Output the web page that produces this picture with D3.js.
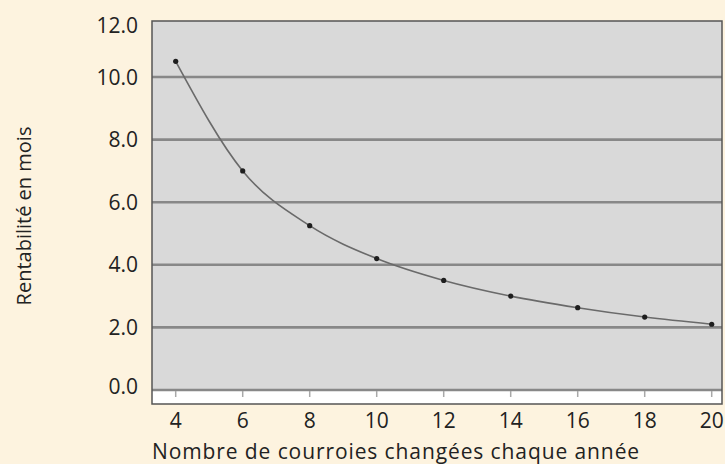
<!DOCTYPE html>
<html>
<head>
<meta charset="utf-8">
<script src="https://cdn.jsdelivr.net/npm/d3@7"></script>
<style>
  body { margin: 0; background: #fdf3df; }
  svg { display: block; font-family: "Open Sans", sans-serif; }
</style>
</head>
<body>
<div id="chart"></div>
<script>
// data
var courroies = [4, 6, 8, 10, 12, 14, 16, 18, 20];
var rentabilite = [10.5, 7.0, 5.25, 4.2, 3.5, 3.0, 2.63, 2.33, 2.1];
var yTicks = [0, 2, 4, 6, 8, 10, 12];
var xTicks = [4, 6, 8, 10, 12, 14, 16, 18, 20];

var width = 725, height = 464;
var plot = {left: 152, top: 21, right: 722, bottom: 404};

var svg = d3.select("#chart")
  .append("svg")
    .attr("width", width)
    .attr("height", height);

// scales
var x = d3.scaleLinear()
    .domain([4, 20])
    .range([175.7, 711.7]);

var y = d3.scaleLinear()
    .domain([0, 10])
    .range([390, 77]);

// plot background: grey above zero, white strip below
svg.append("rect")
    .attr("x", plot.left)
    .attr("y", plot.top)
    .attr("width", plot.right - plot.left)
    .attr("height", plot.bottom - plot.top)
    .attr("fill", "#ffffff");

svg.append("rect")
    .attr("x", plot.left)
    .attr("y", plot.top)
    .attr("width", plot.right - plot.left)
    .attr("height", y(0) - plot.top)
    .attr("fill", "#d9d9d9");

// gridlines
svg.selectAll(".grid")
  .data(yTicks.filter(d => y(d) > plot.top))
  .join("line")
    .attr("class", "grid")
    .attr("x1", plot.left)
    .attr("x2", plot.right)
    .attr("y1", d => y(d))
    .attr("y2", d => y(d))
    .attr("stroke", "#888888")
    .attr("stroke-width", 2.6);

// small tick marks in the white strip
svg.selectAll(".xtick")
  .data(xTicks)
  .join("line")
    .attr("class", "xtick")
    .attr("x1", d => x(d))
    .attr("x2", d => x(d))
    .attr("y1", y(0) + 1)
    .attr("y2", y(0) + 7)
    .attr("stroke", "#a8a8a8")
    .attr("stroke-width", 1.5);

// border
svg.append("rect")
    .attr("x", plot.left)
    .attr("y", plot.top)
    .attr("width", plot.right - plot.left)
    .attr("height", plot.bottom - plot.top)
    .attr("fill", "none")
    .attr("stroke", "#555555")
    .attr("stroke-width", 1.5);

// curve
var line = d3.line()
    .x((d, i) => x(courroies[i]))
    .y(d => y(d))
    .curve(d3.curveMonotoneX);

svg.append("path")
    .datum(rentabilite)
    .attr("d", line)
    .attr("fill", "none")
    .attr("stroke", "#6a6a6a")
    .attr("stroke-width", 1.6);

svg.selectAll(".pt")
  .data(rentabilite)
  .join("circle")
    .attr("class", "pt")
    .attr("cx", (d, i) => x(courroies[i]))
    .attr("cy", d => y(d))
    .attr("r", 2.6)
    .attr("fill", "#1e1e1e");

// y tick labels (top and bottom ones sit a little inside)
svg.selectAll(".ylab")
  .data(yTicks)
  .join("text")
    .attr("class", "ylab")
    .attr("x", 138)
    .attr("y", d => Math.min(Math.max(y(d), 25.5), 386.5))
    .attr("dy", "0.36em")
    .attr("text-anchor", "end")
    .attr("font-size", 21)
    .attr("fill", "#222")
    .text(d => d.toFixed(1));

// x tick labels
svg.selectAll(".xlab")
  .data(xTicks)
  .join("text")
    .attr("class", "xlab")
    .attr("x", d => x(d))
    .attr("y", 428)
    .attr("text-anchor", "middle")
    .attr("font-size", 21)
    .attr("fill", "#222")
    .text(d => d);

// axis titles
svg.append("text")
    .attr("x", 152)
    .attr("y", 458.5)
    .attr("font-size", 21)
    .attr("letter-spacing", 0.9)
    .attr("fill", "#222")
    .text("Nombre de courroies changées chaque année");

svg.append("text")
    .attr("transform", "translate(31,216) rotate(-90)")
    .attr("text-anchor", "middle")
    .attr("font-size", 20)
    .attr("fill", "#222")
    .text("Rentabilité en mois");
</script>
</body>
</html>
